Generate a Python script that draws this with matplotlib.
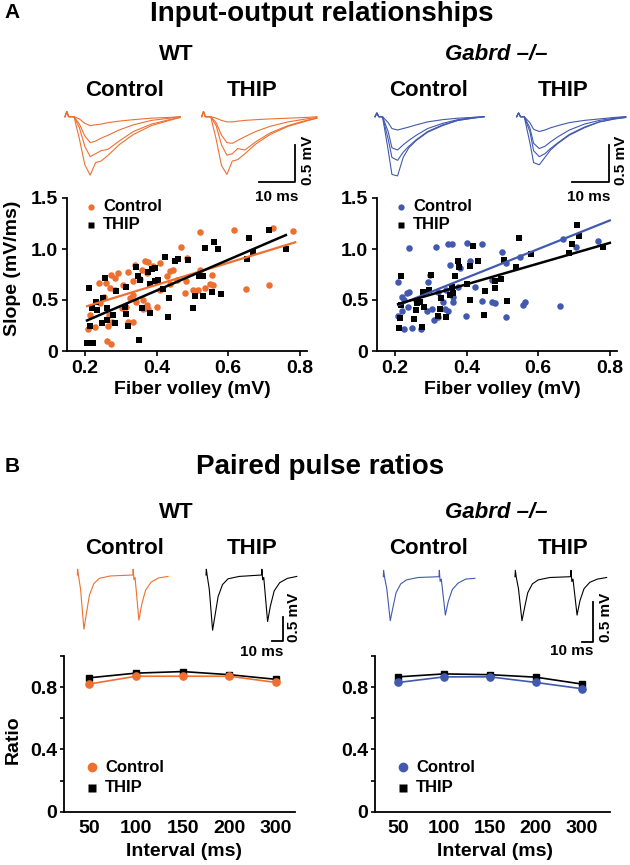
import matplotlib
matplotlib.use('Agg')
import matplotlib.pyplot as plt
from matplotlib.lines import Line2D
import numpy as np

W, H = 630, 865
ORANGE = '#EE7031'
BLUE = '#4159AE'
plt.rcParams['font.family'] = ['Liberation Sans', 'DejaVu Sans']
plt.rcParams['font.weight'] = 'bold'

# ── data: input-output scatter (fiber volley mV, slope mV/ms) ──────────────
wt_ctrl_x = [0.521, 0.617, 0.726, 0.468, 0.715, 0.650, 0.209, 0.228, 0.261, 0.273,
             0.214, 0.242, 0.254, 0.240, 0.259, 0.273, 0.284, 0.291, 0.270, 0.284,
             0.307, 0.321, 0.335, 0.340, 0.358, 0.368, 0.377, 0.372, 0.354, 0.363,
             0.372, 0.377, 0.400, 0.363, 0.344, 0.326, 0.333, 0.316, 0.303, 0.321,
             0.333, 0.268, 0.275, 0.265, 0.409, 0.428, 0.437, 0.447, 0.437, 0.456,
             0.482, 0.479, 0.484, 0.502, 0.516, 0.535, 0.549, 0.554, 0.558, 0.521,
             0.409, 0.391, 0.782]
wt_ctrl_y = [1.17, 1.19, 1.21, 1.02, 0.65, 0.61, 0.22, 0.24, 0.10, 0.07,
             0.35, 0.47, 0.53, 0.67, 0.67, 0.75, 0.72, 0.76, 0.62, 0.60,
             0.65, 0.77, 0.69, 0.84, 0.79, 0.88, 0.87, 0.76, 0.71, 0.50,
             0.45, 0.41, 0.43, 0.41, 0.48, 0.52, 0.55, 0.43, 0.42, 0.28,
             0.28, 0.35, 0.28, 0.25, 0.60, 0.74, 0.78, 0.79, 0.66, 0.70,
             0.69, 0.57, 0.91, 0.60, 0.60, 0.62, 0.66, 0.75, 0.65, 0.79,
             0.86, 0.83, 1.18]
wt_thip_x = [0.212, 0.205, 0.223, 0.214, 0.219, 0.231, 0.233, 0.251, 0.256, 0.261,
             0.247, 0.261, 0.279, 0.284, 0.288, 0.312, 0.316, 0.321, 0.316, 0.344,
             0.349, 0.354, 0.358, 0.382, 0.377, 0.386, 0.396, 0.382, 0.396, 0.405,
             0.351, 0.423, 0.417, 0.433, 0.435, 0.451, 0.461, 0.489, 0.501, 0.507,
             0.519, 0.530, 0.529, 0.535, 0.554, 0.561, 0.572, 0.580, 0.652, 0.659,
             0.668, 0.715, 0.761]
wt_thip_y = [0.62, 0.08, 0.08, 0.25, 0.42, 0.48, 0.40, 0.52, 0.72, 0.42,
             0.27, 0.30, 0.35, 0.27, 0.59, 0.43, 0.36, 0.25, 0.63, 0.82,
             0.74, 0.70, 0.42, 0.37, 0.77, 0.80, 0.81, 0.66, 0.69, 0.70,
             0.11, 0.92, 0.61, 0.33, 0.52, 0.88, 0.90, 0.89, 0.42, 0.54,
             0.74, 0.74, 0.54, 1.01, 0.58, 1.07, 1.00, 0.56, 0.90, 1.11,
             0.97, 1.19, 1.00]
ko_ctrl_x = [0.240, 0.316, 0.347, 0.358, 0.402, 0.442, 0.209, 0.219, 0.233, 0.240,
             0.225, 0.237, 0.219, 0.209, 0.225, 0.247, 0.272, 0.259, 0.291, 0.298,
             0.289, 0.303, 0.309, 0.321, 0.340, 0.349, 0.335, 0.321, 0.354, 0.382,
             0.377, 0.363, 0.398, 0.409, 0.423, 0.442, 0.470, 0.479, 0.498, 0.510,
             0.510, 0.470, 0.549, 0.557, 0.563, 0.661, 0.668, 0.706, 0.768, 0.363,
             0.279, 0.344]
ko_ctrl_y = [1.01, 1.02, 1.05, 1.05, 1.06, 1.05, 0.68, 0.53, 0.57, 0.58,
             0.50, 0.43, 0.39, 0.34, 0.22, 0.23, 0.22, 0.50, 0.68, 0.75,
             0.39, 0.41, 0.30, 0.33, 0.41, 0.39, 0.48, 0.58, 0.84, 0.81,
             0.63, 0.48, 0.34, 0.88, 0.63, 0.49, 0.48, 0.47, 0.97, 0.86,
             0.33, 0.70, 0.92, 0.45, 0.48, 0.44, 1.10, 1.02, 1.08, 0.53,
             0.57, 0.60]
ko_thip_x = [0.216, 0.216, 0.214, 0.212, 0.253, 0.259, 0.262, 0.270, 0.275, 0.281,
             0.279, 0.296, 0.301, 0.321, 0.326, 0.330, 0.344, 0.354, 0.358, 0.361,
             0.368, 0.377, 0.380, 0.409, 0.400, 0.409, 0.417, 0.431, 0.449, 0.451,
             0.479, 0.479, 0.495, 0.504, 0.512, 0.538, 0.547, 0.579, 0.687, 0.694,
             0.709, 0.714, 0.780]
ko_thip_y = [0.74, 0.45, 0.32, 0.23, 0.31, 0.40, 0.47, 0.48, 0.24, 0.43,
             0.58, 0.60, 0.75, 0.34, 0.41, 0.52, 0.33, 0.55, 0.63, 0.57,
             0.74, 0.88, 0.82, 0.50, 0.66, 0.83, 1.03, 0.88, 0.35, 0.59,
             0.69, 0.62, 0.71, 0.89, 0.49, 0.82, 1.11, 0.95, 0.96, 1.05,
             1.24, 1.13, 1.02]
# regression lines: (slope, intercept), x span
wt_fit_ctrl, wt_span_ctrl = (1.077, 0.218), (0.206, 0.787)
wt_fit_thip, wt_span_thip = (1.508, -0.011), (0.206, 0.761)
ko_fit_ctrl, ko_span_ctrl = (1.404, 0.157), (0.209, 0.800)
ko_fit_thip, ko_span_thip = (1.015, 0.248), (0.209, 0.800)

# ── data: paired pulse ratios ───────────────────────────────────────────────
intervals = ['50', '100', '150', '200', '300']
wt_ppr_ctrl = [0.82, 0.87, 0.87, 0.87, 0.83]
wt_ppr_thip = [0.86, 0.89, 0.90, 0.88, 0.85]
ko_ppr_ctrl = [0.83, 0.866, 0.866, 0.83, 0.79]
ko_ppr_thip = [0.866, 0.885, 0.88, 0.864, 0.82]

# ── data: example traces (ms, mV) ───────────────────────────────────────────
t_io_wt = [0, 0.5, 1, 2.5, 4, 5.5, 7, 8.5, 10, 12, 15, 19, 24, 29, 32]
wt_io_ctrl = [
    [0, 0.07, 0, 0, -0.03, -0.09, -0.12, -0.11, -0.10, -0.08, -0.06, -0.04, -0.02, -0.01, 0],
    [0, 0.07, 0, 0, -0.10, -0.26, -0.35, -0.33, -0.29, -0.25, -0.18, -0.11, -0.05, -0.02, 0],
    [0, 0.07, 0, 0, -0.15, -0.40, -0.54, -0.50, -0.46, -0.44, -0.33, -0.20, -0.10, -0.04, -0.01],
    [0, 0.07, 0, 0, -0.30, -0.65, -0.79, -0.62, -0.60, -0.52, -0.38, -0.24, -0.12, -0.05, -0.01],
]
wt_io_thip = [
    [0, 0.07, 0, 0, -0.02, -0.05, -0.07, -0.07, -0.06, -0.05, -0.04, -0.03, -0.02, -0.01, 0],
    [0, 0.07, 0, 0, -0.08, -0.25, -0.35, -0.36, -0.32, -0.27, -0.20, -0.13, -0.07, -0.03, -0.01],
    [0, 0.07, 0, 0, -0.12, -0.38, -0.52, -0.50, -0.43, -0.45, -0.34, -0.22, -0.12, -0.05, -0.02],
    [0, 0.07, 0, 0, -0.30, -0.66, -0.78, -0.60, -0.58, -0.50, -0.37, -0.24, -0.13, -0.06, -0.02],
]
t_io_ko = [0, 0.5, 1, 2, 3.5, 4.5, 6, 7.5, 9, 11, 14, 18, 22, 26, 29]
ko_io_ctrl = [
    [0, 0.05, 0, 0, -0.08, -0.16, -0.18, -0.16, -0.14, -0.11, -0.07, -0.04, -0.02, -0.01, 0],
    [0, 0.05, 0, 0, -0.20, -0.42, -0.45, -0.38, -0.32, -0.25, -0.16, -0.09, -0.04, -0.01, 0],
    [0, 0.05, 0, 0, -0.30, -0.55, -0.59, -0.48, -0.40, -0.31, -0.20, -0.11, -0.05, -0.02, 0],
    [0, 0.05, 0, 0, -0.45, -0.78, -0.80, -0.55, -0.42, -0.32, -0.21, -0.12, -0.05, -0.02, 0],
]
ko_io_thip = [
    [0, 0.05, 0, 0, -0.08, -0.17, -0.20, -0.18, -0.15, -0.12, -0.08, -0.05, -0.03, -0.01, 0],
    [0, 0.05, 0, 0, -0.15, -0.36, -0.43, -0.40, -0.34, -0.27, -0.18, -0.10, -0.05, -0.02, 0],
    [0, 0.05, 0, 0, -0.20, -0.46, -0.54, -0.50, -0.43, -0.35, -0.24, -0.14, -0.07, -0.03, -0.01],
    [0, 0.05, 0, 0, -0.35, -0.62, -0.65, -0.55, -0.45, -0.36, -0.25, -0.15, -0.07, -0.03, -0.01],
]
t_pp_wt = [0, 0.3, 1, 3, 6, 8.5, 11, 15, 20, 30, 50.5, 50.8, 51.5, 52.5, 56, 58.5, 62, 67, 74, 82.5]
wt_pp_ctrl = [0, 0.12, 0, -0.3, -1.13, -0.77, -0.42, -0.18, -0.07, -0.02,
              0, 0.12, -0.1, -0.05, -0.94, -0.62, -0.32, -0.15, -0.06, -0.03]
wt_pp_thip = [0, 0.12, 0, -0.3, -1.15, -0.80, -0.45, -0.20, -0.08, -0.03,
              0, 0.12, -0.1, -0.05, -0.97, -0.65, -0.33, -0.16, -0.07, -0.03]
t_pp_ko = [0, 0.3, 1, 3, 6, 8.5, 11, 15, 20, 30, 48, 48.3, 49, 50, 53.5, 56, 59.5, 64.5, 71, 79]
ko_pp_ctrl = [0, 0.08, 0, -0.15, -0.55, -0.37, -0.20, -0.09, -0.04, -0.01,
              0, 0.08, -0.06, -0.03, -0.48, -0.31, -0.16, -0.08, -0.03, -0.02]
ko_pp_thip = [0, 0.08, 0, -0.15, -0.55, -0.37, -0.20, -0.09, -0.04, -0.01,
              0, 0.08, -0.06, -0.03, -0.48, -0.30, -0.15, -0.07, -0.03, -0.01]

fig = plt.figure(figsize=(W / 100, H / 100), dpi=100)
fig.patch.set_facecolor('white')


# ── helpers (pixel layout, y measured from the top) ─────────────────────────
def px_rect(l, t, w, h):
    return [l / W, 1 - (t + h) / H, w / W, h / H]


def ftext(x, y, s, size, **kw):
    kw.setdefault('ha', 'center')
    kw.setdefault('va', 'center')
    fig.text(x / W, 1 - y / H, s, fontsize=size, fontweight='bold', **kw)


def fline(xs, ys, lw=1.3, **kw):
    fig.add_artist(Line2D([x / W for x in xs], [1 - y / H for y in ys],
                          color=kw.pop('color', 'black'), lw=lw,
                          transform=fig.transFigure, **kw))


def trace_ax(l, t, w, h, ox, oy, px_ms, px_mv):
    ax = fig.add_axes(px_rect(l, t, w, h))
    ax.set_xlim((l - ox) / px_ms, (l + w - ox) / px_ms)
    ax.set_ylim((oy - t - h) / px_mv, (oy - t) / px_mv)
    ax.axis('off')
    return ax


def scale_bar(xr, yb, xl, yt, tx, ty, vx, vy):
    fline([xl, xr, xr], [yb, yb, yt])
    ftext(tx, ty, '10 ms', 11)
    ftext(vx, vy, '0.5 mV', 11, rotation=90)


def legend_px(x, y, col, marker, ms, label, dx=13):
    fline([x], [y], lw=0, marker=marker, ms=ms, color=col, mec='none')
    ftext(x + dx, y, label, 12, ha='left')


def style(ax, size):
    for s in ('top', 'right'):
        ax.spines[s].set_visible(False)
    for s in ('left', 'bottom'):
        ax.spines[s].set_linewidth(1.3)
    ax.tick_params(labelsize=size, width=1.2, length=3.5)


# ── section titles ──────────────────────────────────────────────────────────
ftext(12, 13, 'A', 15)
ftext(322, 14, 'Input-output relationships', 20)
ftext(12, 467, 'B', 15)
ftext(320, 467, 'Paired pulse ratios', 20)
for y in (55, 512):
    ftext(176, y, 'WT', 16)
    ftext(496, y, 'Gabrd –/–', 16, fontstyle='italic')
for y in (91, 548):
    ftext(125, y, 'Control', 16)
    ftext(252, y, 'THIP', 16)
    ftext(429, y, 'Control', 16)
    ftext(563, y, 'THIP', 16)

# ── top traces ──────────────────────────────────────────────────────────────
for (l, ox, pxms, col, traces, tt) in [
        (60, 65, 3.6, ORANGE, wt_io_ctrl, t_io_wt),
        (195, 201.7, 3.6, ORANGE, wt_io_thip, t_io_wt),
        (370, 375, 3.76, BLUE, ko_io_ctrl, t_io_ko),
        (510, 516.7, 3.76, BLUE, ko_io_thip, t_io_ko)]:
    ax = trace_ax(l, 100, 130, 85, ox, 116.7, pxms, 74)
    for v in traces:
        ax.plot(tt, v, color=col, lw=0.8)
scale_bar(295, 181.7, 259, 145, 277, 197, 308, 160)
scale_bar(609.3, 181.7, 571.7, 145, 589, 197, 621, 160)

# ── scatter panels ──────────────────────────────────────────────────────────
for (l, cx, cy, tx, ty, fc, sc, ft, st, col, ylab) in [
        (67, wt_ctrl_x, wt_ctrl_y, wt_thip_x, wt_thip_y,
         wt_fit_ctrl, wt_span_ctrl, wt_fit_thip, wt_span_thip, ORANGE, True),
        (377, ko_ctrl_x, ko_ctrl_y, ko_thip_x, ko_thip_y,
         ko_fit_ctrl, ko_span_ctrl, ko_fit_thip, ko_span_thip, BLUE, False)]:
    ax = fig.add_axes(px_rect(l, 198, 240, 153))
    ax.scatter(cx, cy, s=22, color=col, marker='o', lw=0, zorder=3)
    ax.scatter(tx, ty, s=20, color='black', marker='s', lw=0, zorder=3)
    xs = np.array(sc)
    ax.plot(xs, fc[0] * xs + fc[1], color=col, lw=1.6, zorder=4)
    xs = np.array(st)
    ax.plot(xs, ft[0] * xs + ft[1], color='black', lw=1.8, zorder=4)
    ax.set_xlim(0.15, 0.82)
    ax.set_ylim(0, 1.5)
    ax.set_xticks([0.2, 0.4, 0.6, 0.8])
    ax.set_yticks([0, 0.5, 1.0, 1.5], ['0', '0.5', '1.0', '1.5'])
    style(ax, 14)
    ax.tick_params(pad=3)
    legend_px(l + 24, 206.7, col, 'o', 4.5, 'Control', dx=12)
    legend_px(l + 24, 225, 'black', 's', 4.5, 'THIP', dx=12)
    ftext(l + 125, 389, 'Fiber volley (mV)', 14)
    if ylab:
        ftext(13, 268, 'Slope (mV/ms)', 14, rotation=90)

# ── paired pulse traces ─────────────────────────────────────────────────────
for (l, w, ox, pxms, pxmv, oy, col, v, tt) in [
        (70, 110, 77.3, 1.1, 48, 575, ORANGE, wt_pp_ctrl, t_pp_wt),
        (200, 105, 206, 1.1, 48, 575, 'black', wt_pp_thip, t_pp_wt),
        (378, 110, 383.3, 1.16, 80, 576.7, BLUE, ko_pp_ctrl, t_pp_ko),
        (510, 100, 515, 1.16, 80, 576.7, 'black', ko_pp_thip, t_pp_ko)]:
    ax = trace_ax(l, 562, w, 78, ox, oy, pxms, pxmv)
    ax.plot(tt, v, color=col, lw=0.8)
scale_bar(282.7, 640.7, 271.7, 616.7, 262, 652, 294, 617)
scale_bar(593.3, 641.7, 581.7, 601.7, 572, 651, 606, 617)

# ── paired pulse ratio panels ───────────────────────────────────────────────
for (l, w, x0, dx, ctrl, thip, col, ylab) in [
        (64, 231, 89.3, 46.7, wt_ppr_ctrl, wt_ppr_thip, ORANGE, True),
        (375, 235, 398.3, 45.85, ko_ppr_ctrl, ko_ppr_thip, BLUE, False)]:
    ax = fig.add_axes(px_rect(l, 656, w, 155.7))
    x = np.arange(len(intervals))
    ax.plot(x, thip, '-s', color='black', ms=5, lw=1.2, zorder=3)
    ax.plot(x, ctrl, '-o', color=col, ms=5.2, lw=1.2, zorder=4)
    ax.set_xlim((l - x0) / dx, (l + w - x0) / dx)
    ax.set_ylim(0, 1.0)
    ax.set_xticks(x, intervals)
    ax.set_yticks([0, 0.4, 0.8], ['0', '0.4', '0.8'])
    ax.set_yticks([0.2, 0.6, 1.0], minor=True)
    style(ax, 14)
    ax.tick_params(axis='y', which='both', width=1.2, length=3, pad=2)
    ax.tick_params(axis='x', length=0, pad=6)
    legend_px(l + 28, 767, col, 'o', 7, 'Control', dx=13)
    legend_px(l + 28, 788, 'black', 's', 6, 'THIP', dx=13)
    ftext(l + 120, 852, 'Interval (ms)', 14)
    if ylab:
        ftext(13, 740, 'Ratio', 14, rotation=90)

plt.savefig('out.png', dpi=100, facecolor='white')
plt.close()
